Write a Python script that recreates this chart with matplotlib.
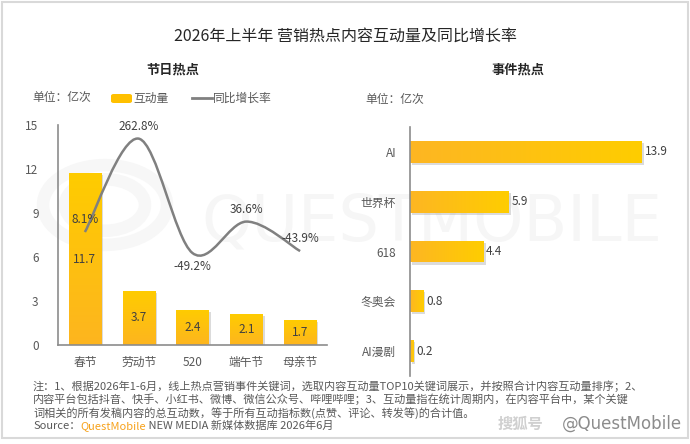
import numpy as np
import matplotlib
matplotlib.use("Agg")
import matplotlib.pyplot as plt
from matplotlib.colors import LinearSegmentedColormap
from matplotlib.patches import Rectangle, FancyBboxPatch, PathPatch
from matplotlib.path import Path
import matplotlib.patheffects as pe

plt.rcParams['font.family'] = ['Noto Sans CJK SC', 'DejaVu Sans']

# ---- data ----
fest_names = ['春节', '劳动节', '520', '端午节', '母亲节']
fest_volume = [11.7, 3.7, 2.4, 2.1, 1.7]
fest_growth = [8.1, 262.8, -49.2, 36.6, -43.9]

event_names = ['AI', '世界杯', '618', '冬奥会', 'AI漫剧']
event_volume = [13.9, 5.9, 4.4, 0.8, 0.2]

W, H = 690, 444
TXT = '#595959'
DARK = '#404040'
GRID = '#8c8c8c'


def fx(px):
    return px / W


def fy(py):
    return 1 - py / H


fig = plt.figure(figsize=(W / 100, H / 100), dpi=100)

# outer frame
fig.patches.append(Rectangle((fx(1.5), fy(438)), fx(686), 436 / H, transform=fig.transFigure,
                             fill=False, edgecolor='#d9d9d9', linewidth=1.5))

# faint watermark
fig.text(fx(432), fy(222), 'QUESTMOBILE', fontsize=46, color='#f6f6f6', ha='center', va='center',
         family='DejaVu Sans', zorder=-5)
for r, lw in [(62, 9), (40, 9)]:
    c = plt.Circle((fx(105), fy(205)), r / W, transform=fig.transFigure, fill=False,
                   edgecolor='#f7f7f7', linewidth=lw, zorder=-5)
    fig.patches.append(c)

# titles
fig.text(fx(345), fy(36), '2026年上半年 营销热点内容互动量及同比增长率', fontsize=11.5,
         color='#262626', ha='center', va='center')
fig.text(fx(173), fy(70), '节日热点', fontsize=9.5, fontweight='bold', color='#262626',
         ha='center', va='center')
fig.text(fx(518), fy(70), '事件热点', fontsize=9.5, fontweight='bold', color='#262626',
         ha='center', va='center')

# legend row (left)
fig.text(fx(32), fy(98), '单位：亿次', fontsize=8.5, color=TXT, va='center')
fig.patches.append(FancyBboxPatch((fx(111), fy(103)), fx(21), 9 / H, transform=fig.transFigure,
                                  boxstyle='round,pad=0,rounding_size=0.004',
                                  facecolor='#ffc000', edgecolor='none'))
fig.text(fx(133), fy(98), '互动量', fontsize=8.5, color=TXT, va='center')
fig.lines.append(plt.Line2D([fx(192), fx(212)], [fy(98), fy(98)], transform=fig.transFigure,
                            color='#808080', linewidth=2))
fig.text(fx(213), fy(98), '同比增长率', fontsize=8.5, color=TXT, va='center')
fig.text(fx(365), fy(99), '单位：亿次', fontsize=8.5, color=TXT, va='center')

shadow = [pe.SimplePatchShadow(offset=(1.5, -1.5), shadow_rgbFace='#999999', alpha=0.35), pe.Normal()]

# ---- left: festival bars + growth line ----
ax = fig.add_axes([fx(58), fy(345), fx(327 - 58), (345 - 125) / H])
ax.set_facecolor('none')
x = np.arange(len(fest_names))
bars = ax.bar(x, fest_volume, width=0.6, color='#ffc20e', zorder=2)
vcmap = LinearSegmentedColormap.from_list('v', ['#fdb51f', '#ffcc00'])
grad_v = np.linspace(0, 1, 256).reshape(-1, 1)
for b in bars:
    b.set_path_effects(shadow)
    im = ax.imshow(grad_v, cmap=vcmap, origin='lower', aspect='auto', zorder=2.1,
                   extent=[b.get_x(), b.get_x() + b.get_width(), 0, b.get_height()])
    im.set_clip_path(b)
for xi, v in zip(x, fest_volume):
    ax.text(xi, v / 2, f'{v:.1f}', ha='center', va='center', fontsize=8.5, color=DARK, zorder=5)
ax.set_xlim(-0.5, len(fest_names) - 0.5)
ax.set_ylim(0, 15)
ax.set_yticks(np.arange(0, 16, 3))
ax.set_xticks(x)
ax.set_xticklabels(fest_names)
ax.tick_params(length=0, labelsize=8.5, colors=TXT, pad=8)
ax.tick_params(axis='y', pad=14)
for s in ['top', 'right']:
    ax.spines[s].set_visible(False)
for s in ['left', 'bottom']:
    ax.spines[s].set_color(GRID)
    ax.spines[s].set_linewidth(1.2)

ax2 = ax.twinx()
ax2.set_ylim(-300, 300)
ax2.axis('off')
# smooth line through the growth points (Catmull-Rom as cubic Bezier)
pts = np.column_stack([x, fest_growth]).astype(float)
ext = np.vstack([pts[0], pts, pts[-1]])
verts = [tuple(pts[0])]
codes = [Path.MOVETO]
for i in range(len(pts) - 1):
    p0, p1, p2, p3 = ext[i], ext[i + 1], ext[i + 2], ext[i + 3]
    c1 = p1 + (p2 - p0) / 6
    c2 = p2 - (p3 - p1) / 6
    verts += [tuple(c1), tuple(c2), tuple(p2)]
    codes += [Path.CURVE4] * 3
ax2.add_patch(PathPatch(Path(verts, codes), fill=False, edgecolor='#808080', linewidth=1.8, zorder=4))
offsets = [9, 9, -10, 9, 9]
for xi, g, off in zip(x, fest_growth, offsets):
    ax2.annotate(f'{g:.1f}%', (xi, g), xytext=(0, off), textcoords='offset points',
                 ha='center', va='center', fontsize=8.5, color=DARK, zorder=5)

# ---- right: event bars ----
bx = fig.add_axes([fx(410), fy(376), fx(677 - 410), (376 - 127) / H])
bx.set_facecolor('none')
y = np.arange(len(event_names))
hbars = bx.barh(y, event_volume, height=0.44, color='#ffc20e', zorder=2)
hcmap = LinearSegmentedColormap.from_list('h', ['#fdb623', '#ffcd00'])
grad_h = np.linspace(0, 1, 256).reshape(1, -1)
for b in hbars:
    b.set_path_effects(shadow)
    im = bx.imshow(grad_h, cmap=hcmap, aspect='auto', zorder=2.1,
                   extent=[0, b.get_width(), b.get_y(), b.get_y() + b.get_height()])
    im.set_clip_path(b)
for yi, v in zip(y, event_volume):
    bx.annotate(f'{v:.1f}', (v, yi), xytext=(2, 0), textcoords='offset points',
                ha='left', va='center', fontsize=8.5, color=DARK)
bx.set_xlim(0, 16)
bx.set_ylim(len(event_names) - 0.5, -0.5)
bx.set_yticks(y)
bx.set_yticklabels(event_names)
bx.set_xticks([])
bx.tick_params(length=0, labelsize=8.5, colors=TXT, pad=10)
for s in ['top', 'right', 'bottom']:
    bx.spines[s].set_visible(False)
bx.spines['left'].set_color(GRID)
bx.spines['left'].set_linewidth(1.2)

# ---- notes ----
notes = [
    '注：1、根据2026年1-6月，线上热点营销事件关键词，选取内容互动量TOP10关键词展示，并按照合计内容互动量排序；2、',
    '内容平台包括抖音、快手、小红书、微博、微信公众号、哔哩哔哩；3、互动量指在统计周期内，在内容平台中，某个关键',
    '词相关的所有发稿内容的总互动数，等于所有互动指标数(点赞、评论、转发等)的合计值。',
]
for i, line in enumerate(notes):
    fig.text(fx(33), fy(386 + i * 13.3), line, fontsize=8, color=TXT, va='center')

renderer = fig.canvas.get_renderer()
src_y = fy(426)
t1 = fig.text(fx(33), src_y, 'Source：', fontsize=8, color=TXT, va='center')
x1 = t1.get_window_extent(renderer).x1 / W
t2 = fig.text(x1, src_y, 'QuestMobile', fontsize=8, color='#f7a21b', va='center')
x2 = t2.get_window_extent(renderer).x1 / W
fig.text(x2, src_y, ' NEW MEDIA 新媒体数据库 2026年6月', fontsize=8, color=TXT, va='center')

fig.text(fx(498), fy(424), '搜狐号', fontsize=11, color='#d0d0d0', va='center', style='italic',
         fontweight='bold')
fig.text(fx(682), fy(424), '@QuestMobile', fontsize=12, color='#8c8c8c', va='center', ha='right',
         family='DejaVu Sans')

fig.savefig('out.png', dpi=100)
